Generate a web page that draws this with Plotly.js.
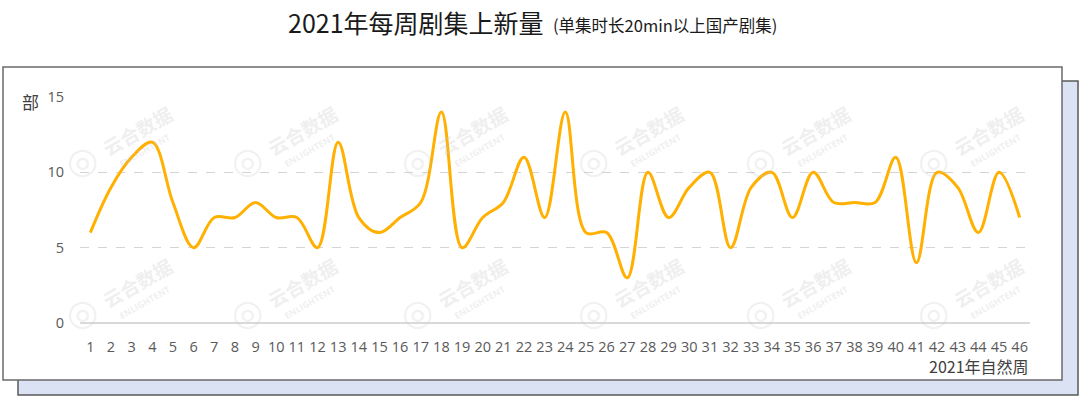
<!DOCTYPE html>
<html>
<head>
<meta charset="utf-8">
<script src="https://cdn.plot.ly/plotly-3.0.1.min.js"></script>
<style>html,body{margin:0;padding:0;background:#fff;}#chart{width:1080px;height:397px;}</style>
</head>
<body>
<div id="chart"></div>
<script>
const weeks = Array.from({length: 46}, (_, i) => i + 1);
const weekLabels = weeks.map(String);
const newShows = [6, 9, 11, 12, 8, 5, 7, 7, 8, 7,
                  7, 5, 12, 7, 6, 7, 8, 14, 5, 7,
                  8, 11, 7, 14, 6, 6, 3, 10, 7, 9,
                  10, 5, 9, 10, 7, 10, 8, 8, 8, 11,
                  4, 10, 9, 6, 10, 7];
const yTicks = [0, 5, 10, 15];

const W = 1080, H = 397;
const L = 80, R = 1030, T = 97, B = 323;
const px = x => (x - L) / (R - L);
const py = y => (B - y) / (B - T);

const cjk = '"Noto Sans CJK SC", "Noto Sans", sans-serif';
const numFont = '"Open Sans", "Noto Sans CJK SC", sans-serif';

const shapes = [
  {type: 'rect', xref: 'paper', yref: 'paper', layer: 'below',
   x0: px(18), x1: px(1078), y0: py(395), y1: py(81),
   fillcolor: '#dbe2f4', line: {color: '#5a5a5a', width: 1.5}},
  {type: 'rect', xref: 'paper', yref: 'paper', layer: 'below',
   x0: px(3), x1: px(1062), y0: py(380), y1: py(67),
   fillcolor: '#ffffff', line: {color: '#6a6a6a', width: 1.5}}
];

const annotations = [];

const wmCols = [82, 247, 417, 593, 760, 933];
const wmRows = [160, 312];
wmRows.forEach(ry => wmCols.forEach(cx => {
  annotations.push({xref: 'paper', yref: 'paper', x: px(cx + 55), y: py(ry - 30), showarrow: false,
    xanchor: 'center', yanchor: 'middle', textangle: -30,
    text: '<b>云合数据</b>', font: {family: cjk, size: 19, color: 'rgba(200,200,200,0.3)'}});
  annotations.push({xref: 'paper', yref: 'paper', x: px(cx + 62), y: py(ry - 10), showarrow: false,
    xanchor: 'center', yanchor: 'middle', textangle: -30,
    text: '<b>ENLIGHTENT</b>', font: {family: numFont, size: 9, color: 'rgba(200,200,200,0.3)'}});
  annotations.push({xref: 'paper', yref: 'paper', x: px(cx), y: py(ry), showarrow: false,
    xanchor: 'center', yanchor: 'middle',
    text: '◎', font: {family: '"DejaVu Sans", sans-serif', size: 36, color: 'rgba(200,200,200,0.25)'}});
}));

annotations.push(
  {xref: 'paper', yref: 'paper', x: px(286), y: py(22), xanchor: 'left', yanchor: 'middle', showarrow: false,
   text: '2021年每周剧集上新量', font: {family: cjk, size: 25, color: '#1a1a1a'}},
  {xref: 'paper', yref: 'paper', x: px(551), y: py(25), xanchor: 'left', yanchor: 'middle', showarrow: false,
   text: '(单集时长20min以上国产剧集)', font: {family: cjk, size: 16.5, color: '#1a1a1a'}},
  {xref: 'paper', yref: 'paper', x: px(41), y: py(101), xanchor: 'right', yanchor: 'middle', showarrow: false,
   text: '部', font: {family: cjk, size: 17, color: '#404040'}},
  {xref: 'paper', yref: 'paper', x: px(1031), y: py(366), xanchor: 'right', yanchor: 'middle', showarrow: false,
   text: '2021年自然周', font: {family: cjk, size: 16, color: '#404040'}}
);

const trace = {
  type: 'scatter', mode: 'lines', x: weeks, y: newShows,
  line: {color: '#FFB000', width: 3, shape: 'spline', smoothing: 1},
  hoverinfo: 'x+y'
};

const layout = {
  width: W, height: H,
  margin: {l: L, r: W - R, t: T, b: H - B, pad: 0},
  paper_bgcolor: '#ffffff', plot_bgcolor: 'rgba(0,0,0,0)',
  showlegend: false,
  xaxis: {range: [0.5, 46.5], tickmode: 'array', tickvals: weeks, ticktext: weekLabels,
          showgrid: false, zeroline: false, showline: false, ticks: '',
          ticklabelstandoff: 13,
          tickfont: {family: numFont, size: 14.5, color: '#595959'}, fixedrange: true},
  yaxis: {range: [0, 15], tickmode: 'array', tickvals: yTicks, ticktext: yTicks.map(String),
          showgrid: true, gridcolor: '#d4d4d4', griddash: 'dash', gridwidth: 1,
          zeroline: true, zerolinecolor: '#d9d9d9', zerolinewidth: 1.5,
          showline: false, ticks: '', ticklabelstandoff: 15,
          tickfont: {family: numFont, size: 14.5, color: '#595959'}, fixedrange: true},
  shapes: shapes,
  annotations: annotations
};

Plotly.newPlot('chart', [trace], layout, {displayModeBar: false, staticPlot: true});
</script>
</body>
</html>
